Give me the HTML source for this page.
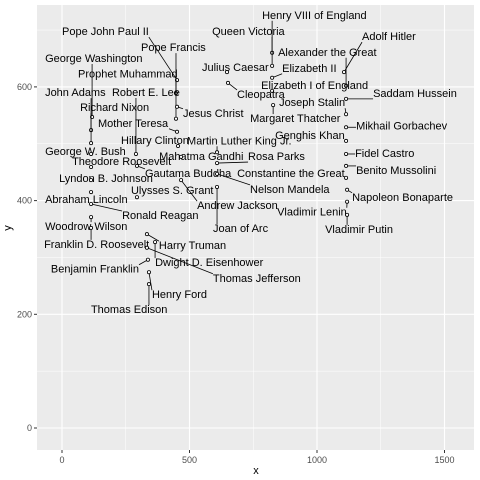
<!DOCTYPE html>
<html><head><meta charset="utf-8"><style>
body{margin:0;background:#fff}
svg{display:block;font-family:"Liberation Sans",sans-serif}
</style></head><body>
<svg id="chart" width="480" height="480">
<rect x="0" y="0" width="480" height="480" fill="#fff"/>
<rect x="37" y="5" width="437" height="445" fill="#ebebeb"/>
<g id="grid"></g>
<g id="axes"></g>
<g id="marks"></g>
<text x="256" y="474" font-size="11" text-anchor="middle" fill="#000">x</text>
<text x="11" y="228" font-size="11" text-anchor="middle" fill="#000" transform="rotate(-90 11 228)">y</text>
</svg>
<script>
const names=["Henry VIII of England","Queen Victoria","Pope John Paul II","Adolf Hitler","Pope Francis","Alexander the Great","George Washington","Julius Caesar","Elizabeth II","Prophet Muhammad","Elizabeth I of England","John Adams","Robert E. Lee","Cleopatra","Saddam Hussein","Joseph Stalin","Richard Nixon","Jesus Christ","Margaret Thatcher","Mother Teresa","Mikhail Gorbachev","Genghis Khan","Hillary Clinton","Martin Luther King Jr.","George W. Bush","Fidel Castro","Mahatma Gandhi","Rosa Parks","Theodore Roosevelt","Benito Mussolini","Gautama Buddha","Constantine the Great","Lyndon B. Johnson","Nelson Mandela","Joan of Arc","Ulysses S. Grant","Napoleon Bonaparte","Vladimir Lenin","Abraham Lincoln","Ronald Reagan","Andrew Jackson","Woodrow Wilson","Vladimir Putin","Franklin D. Roosevelt","Harry Truman","Dwight D. Eisenhower","Thomas Jefferson","Benjamin Franklin","Henry Ford","Thomas Edison"];
const xValues=[824,824,451,1106,447,1114,118,647,824,447,824,114,290,651,1114,1114,114,451,828,451,1114,1114,455,608,114,1114,467,608,114,1114,294,1114,114,608,608,294,1118,1118,114,114,467,114,1118,114,333,365,333,337,341,341];
const yValues=[660,637,612,626,589,602,547,626,616,544,593,524,482,607,579,552,501,565,568,521,529,505,496,485,482,482,477,466,459,461,461,440,436,447,424,406,419,398,415,394,436,371,375,352,341,327,317,296,274,253];
const labelDx=[-10,-60,-115,18,-35,-68,-47,-25,10,-98,-11,-46,-24,9,27,-67,-11,6,-23,-79,10,-71,-57,-30,-46,9,-22,31,-19,10,8,-109,-32,33,-4,-6,5,-70,-46,31,16,-46,-22,-47,12,0,66,-97,3,-58];
const labelDy=[-34,-31,-45,-32,-42,-30,-55,-1,-6,-41,-2,-34,-58,15,-2,-8,-32,10,17,-5,2,-2,-2,-8,1,3,3,-3,-2,8,11,-1,2,19,45,-3,11,14,11,15,29,13,18,20,15,24,34,13,26,29];
const xTicks=[0,500,1000,1500];
const yTicks=[0,200,400,600];
const NS="http://www.w3.org/2000/svg";
const X=v=>62+v*0.255, Y=v=>428-v*0.5685;
const P={l:37,r:474,t:5,b:450};
const grid=document.getElementById('grid'),axes=document.getElementById('axes'),marks=document.getElementById('marks');
function ln(p,x1,y1,x2,y2,c,w){const e=document.createElementNS(NS,'line');e.setAttribute('x1',x1);e.setAttribute('y1',y1);e.setAttribute('x2',x2);e.setAttribute('y2',y2);e.setAttribute('stroke',c);e.setAttribute('stroke-width',w);p.appendChild(e);return e;}
for(let i=0;i<xTicks.length;i++){
 const m=ln(grid,X(xTicks[i]+250),P.t,X(xTicks[i]+250),P.b,'#fff',0.5);
 
 
 const g=ln(grid,X(xTicks[i]),P.t,X(xTicks[i]),P.b,'#fff',1.1);
 
 
 const t=ln(axes,X(xTicks[i]),P.b,X(xTicks[i]),P.b+3,'#333',1);
 
 
 const tx=document.createElementNS(NS,'text');tx.setAttribute('x',X(xTicks[i]));tx.setAttribute('y',P.b+13);tx.setAttribute('font-size','9');tx.setAttribute('fill','#4d4d4d');tx.setAttribute('text-anchor','middle');tx.textContent=xTicks[i];
 
 
 axes.appendChild(tx);
}
ln(grid,X(-250)<P.l?P.l:X(-250),0,0,0,'none',0);
for(let i=0;i<yTicks.length;i++){
 const yy=Y(yTicks[i]+100);
 if(yy>P.t){const m=ln(grid,P.l,yy,P.r,yy,'#fff',0.5);
 
 }
 const g=ln(grid,P.l,Y(yTicks[i]),P.r,Y(yTicks[i]),'#fff',1.1);
 
 
 const t=ln(axes,P.l-3,Y(yTicks[i]),P.l,Y(yTicks[i]),'#333',1);
 
 
 const tx=document.createElementNS(NS,'text');tx.setAttribute('x',P.l-5);tx.setAttribute('y',Y(yTicks[i])+3);tx.setAttribute('font-size','9');tx.setAttribute('fill','#4d4d4d');tx.setAttribute('text-anchor','end');tx.textContent=yTicks[i];
 
 
 axes.appendChild(tx);
}
{const m=ln(grid,P.l,Y(-100),P.r,Y(-100),'#fff',0.5);}
for(let i=0;i<names.length;i++){
 const px=X(xValues[i]),py=Y(yValues[i]);
 const t=document.createElementNS(NS,'text');
 t.setAttribute('x',px+labelDx[i]);t.setAttribute('y',py+labelDy[i]);t.setAttribute('font-size','11');t.setAttribute('fill','#000');t.textContent=names[i];
 
 
 marks.appendChild(t);
 const b=t.getBBox();
 const cx=Math.max(b.x,Math.min(px,b.x+b.width)),cy=Math.max(b.y+1,Math.min(py,b.y+b.height-1));
 if(Math.hypot(cx-px,cy-py)>5){
  const l=ln(marks,px,py,cx,cy,'#000',0.8);
  
  
 }
 const c=document.createElementNS(NS,'circle');
 c.setAttribute('cx',px);c.setAttribute('cy',py);c.setAttribute('r','1.6');c.setAttribute('fill','#fff');c.setAttribute('stroke','#000');c.setAttribute('stroke-width','0.8');
 
 
 marks.appendChild(c);
}
</script>
</body></html>
